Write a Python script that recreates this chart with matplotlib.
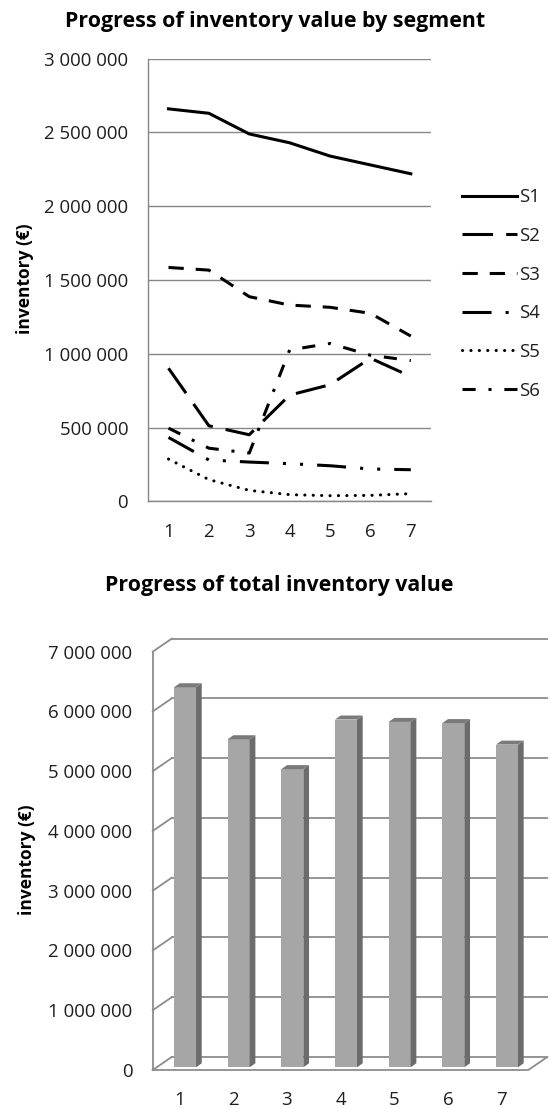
import numpy as np
import matplotlib
matplotlib.use("Agg")
import matplotlib.pyplot as plt
from matplotlib.patches import Polygon
from matplotlib.ticker import FuncFormatter, MultipleLocator

# ---------------- data ----------------
periods = [1, 2, 3, 4, 5, 6, 7]
series_names = ["S1", "S2", "S3", "S4", "S5", "S6"]
s1 = [2660000, 2630000, 2490000, 2430000, 2340000, 2280000, 2220000]
s2 = [902000, 512000, 451000, 720000, 790000, 970000, 846000]
s3 = [1585000, 1567000, 1387000, 1330000, 1315000, 1274000, 1120000]
s4 = [433000, 280000, 266000, 255000, 241000, 219000, 214000]
s5 = [286000, 147000, 74000, 45000, 38000, 40000, 52000]
s6 = [496000, 360000, 327000, 1026000, 1070000, 990000, 954000]
totals = [6360000, 5490000, 4990000, 5820000, 5780000, 5760000, 5400000]

title_top = "Progress of inventory value by segment"
title_bottom = "Progress of total inventory value"
ylabel = "inventory (€)"

# ---------------- style ----------------
FONT = "Open Sans"
plt.rcParams["font.family"] = [FONT, "DejaVu Sans"]
TXT = "#1e1e1e"
GRID = "#868686"
W, H = 550, 1109
fig = plt.figure(figsize=(W / 100, H / 100), dpi=100)

def fx(px):
    return px / W

def fy(py):
    return 1 - py / H

def fmt(v, pos=None):
    return f"{v:,.0f}".replace(",", " ")

TICK_FS = 13.4
TITLE_FS = 15.4

# ---------------- top chart ----------------
l, r, t, b = 148.3, 431.0, 58.7, 501.3
ax1 = fig.add_axes([fx(l), fy(b), fx(r - l), (b - t) / H])
ax1.set_xlim(0.5, 7.5)
ax1.set_ylim(0, 3000000)
ax1.yaxis.set_major_locator(MultipleLocator(500000))
ax1.yaxis.set_major_formatter(FuncFormatter(fmt))
ax1.set_xticks(periods)
ax1.set_xticklabels([str(p) for p in periods])
ax1.grid(axis="y", color=GRID, lw=1.0)
ax1.set_axisbelow(True)
for s in ["top", "right"]:
    ax1.spines[s].set_visible(False)
for s in ["left", "bottom"]:
    ax1.spines[s].set_color(GRID)
    ax1.spines[s].set_linewidth(1.0)
ax1.tick_params(axis="both", length=0, labelsize=TICK_FS, colors=TXT)
ax1.tick_params(axis="y", pad=14.5)
ax1.tick_params(axis="x", pad=15.5)

LW = 2.2
styles = [
    dict(linestyle="-"),
    dict(linestyle=(0, (10, 4.3))),
    dict(linestyle=(0, (5, 3.9))),
    dict(linestyle=(0, (9.5, 4.6, 1, 4.6, 1, 4.6))),
    dict(linestyle=(0, (0.05, 2.7)), dash_capstyle="round"),
    dict(linestyle=(0, (4.3, 4.2, 1, 4.2))),
]
series = [s1, s2, s3, s4, s5, s6]
for name, vals, st in zip(series_names, series, styles):
    kw = dict(color="black", lw=LW, solid_joinstyle="round", dash_joinstyle="round")
    if "dash_capstyle" not in st:
        kw["dash_capstyle"] = "butt"
    kw.update(st)
    ax1.plot(periods, vals, label=name, **kw)

leg = ax1.legend(loc="center left", bbox_to_anchor=(fx(462.3), fy(294.0)),
                 bbox_transform=fig.transFigure, frameon=False, fontsize=TICK_FS,
                 handlelength=2.95, handletextpad=0.1, labelspacing=1.11,
                 borderpad=0, borderaxespad=0)
for t_ in leg.get_texts():
    t_.set_color(TXT)

fig.text(fx(275), fy(26.5), title_top, ha="center", va="baseline",
         fontsize=TITLE_FS, fontweight="bold", color="black")
fig.text(fx(25), fy(279), ylabel, ha="center", va="center", rotation=90,
         fontsize=12.5, fontweight="bold", color="black")

# ---------------- bottom chart (pseudo 3D) ----------------
l2, r2, t2, b2 = 152.7, 528.3, 651.7, 1070.0
ax2 = fig.add_axes([fx(l2), fy(b2), fx(r2 - l2), (b2 - t2) / H])
ymax = 7000000
ax2.set_xlim(0.5, 7.5)
ax2.set_ylim(0, ymax)
pxx = (r2 - l2) / 7.0           # pixels per x unit
pxy = (b2 - t2) / ymax          # pixels per y unit
dx, dy = 19 / pxx, 13 / pxy     # wall depth
for s in ax2.spines.values():
    s.set_visible(False)
ax2.set_xticks(periods)
ax2.set_xticklabels([str(p) for p in periods])
ax2.yaxis.set_major_locator(MultipleLocator(1000000))
ax2.yaxis.set_major_formatter(FuncFormatter(fmt))
ax2.tick_params(axis="both", length=0, labelsize=TICK_FS, colors=TXT)
ax2.tick_params(axis="y", pad=14.5)
ax2.tick_params(axis="x", pad=15)

G2 = "#8c8c8c"
glw = 1.3
ticks = np.arange(0, ymax + 1, 1000000)
for v in ticks:
    ax2.plot([0.5 + dx, 7.5 + dx], [v + dy, v + dy], color=G2, lw=glw, clip_on=False, zorder=1)
    ax2.plot([0.5, 0.5 + dx], [v, v + dy], color=G2, lw=glw, clip_on=False, zorder=1)
ax2.plot([0.5, 0.5], [0, ymax], color=G2, lw=glw, clip_on=False, zorder=1)
ax2.plot([0.5, 7.5, 7.5 + dx], [0, 0, dy], color=G2, lw=glw, clip_on=False, zorder=1)

FRONT, SIDE, TOP = "#a6a6a6", "#6c6c6c", "#7a7a7a"
bx, by = 5.5 / pxx, 2.7 / pxy
bw = 22 / pxx
sdx, sdy = 5.7 / pxx, 4.0 / pxy
xs = np.array(periods, dtype=float) + bx
ax2.bar(xs, totals, width=bw, bottom=by, color=FRONT, edgecolor="none", zorder=3, clip_on=False)
for xc, v in zip(xs, totals):
    xl, xr = xc - bw / 2, xc + bw / 2
    top = by + v
    ax2.add_patch(Polygon([(xr, by), (xr + sdx, by + sdy), (xr + sdx, top + sdy), (xr, top)],
                          closed=True, facecolor=SIDE, edgecolor="none", zorder=3, clip_on=False))
    ax2.add_patch(Polygon([(xl, top), (xr, top), (xr + sdx, top + sdy), (xl + sdx, top + sdy)],
                          closed=True, facecolor=TOP, edgecolor="none", zorder=3, clip_on=False))

fig.text(fx(279), fy(591), title_bottom, ha="center", va="baseline",
         fontsize=TITLE_FS, fontweight="bold", color="black")
fig.text(fx(27), fy(860), ylabel, ha="center", va="center", rotation=90,
         fontsize=12.5, fontweight="bold", color="black")

fig.savefig("out.png", dpi=100, facecolor="white")
